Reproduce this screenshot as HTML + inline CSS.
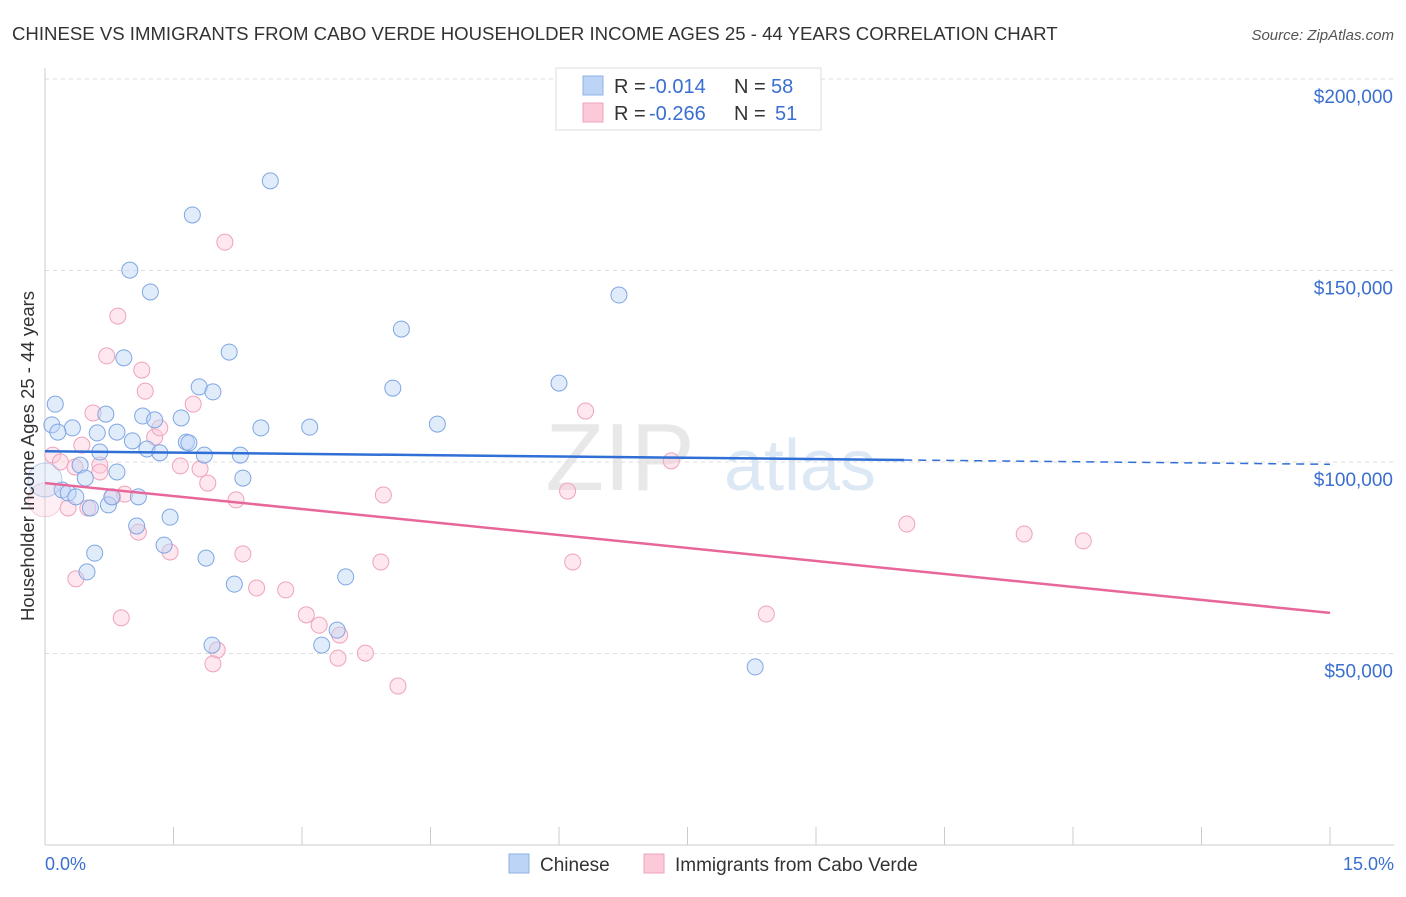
<!DOCTYPE html>
<html><head><meta charset="utf-8"><style>
body{margin:0;background:#fff;font-family:"Liberation Sans",sans-serif;}
svg text{font-family:"Liberation Sans",sans-serif;}
</style></head><body>
<svg id="chart" width="1406" height="892" xmlns="http://www.w3.org/2000/svg">
<text x="12" y="40" font-size="18.6" fill="#333">CHINESE VS IMMIGRANTS FROM CABO VERDE HOUSEHOLDER INCOME AGES 25 - 44 YEARS CORRELATION CHART</text>
<text x="1394" y="40" font-size="15" fill="#555" font-style="italic" text-anchor="end">Source: ZipAtlas.com</text>
<text x="620" y="490" font-size="96" fill="#e8e8e8" font-family="Liberation Serif" text-anchor="middle">ZIP</text>
<text x="800" y="490" font-size="72" fill="#dde8f5" text-anchor="middle">atlas</text>
<g id="grid"></g><g id="axes"></g><g id="pts"></g><g id="trend"></g>
<text transform="translate(34,456) rotate(-90)" font-size="18.5" fill="#333" text-anchor="middle">Householder Income Ages 25 - 44 years</text>
<text x="45" y="870" font-size="18" fill="#3a6fd0">0.0%</text>
<text x="1394" y="870" font-size="18" fill="#3a6fd0" text-anchor="end">15.0%</text>
<g>
<rect x="556" y="68" width="265" height="62" fill="#fff" stroke="#ddd"/>
<rect x="583" y="76" width="20" height="19" fill="#bcd4f6" stroke="#8fb1e6"/>
<rect x="583" y="103" width="20" height="19" fill="#fcc9d9" stroke="#eea3bc"/>
<text x="614" y="93" font-size="20" fill="#333">R =</text>
<text x="649" y="93" font-size="20" fill="#3a6fd0">-0.014</text>
<text x="734" y="93" font-size="20" fill="#333">N =</text>
<text x="771" y="93" font-size="20" fill="#3a6fd0">58</text>
<text x="614" y="120" font-size="20" fill="#333">R =</text>
<text x="649" y="120" font-size="20" fill="#3a6fd0">-0.266</text>
<text x="734" y="120" font-size="20" fill="#333">N =</text>
<text x="775" y="120" font-size="20" fill="#3a6fd0">51</text>
</g>
<g>
<rect x="509" y="854" width="20" height="19" fill="#bcd4f6" stroke="#8fb1e6"/>
<text x="540" y="871" font-size="19" fill="#333">Chinese</text>
<rect x="644" y="854" width="20" height="19" fill="#fcc9d9" stroke="#eea3bc"/>
<text x="675" y="871" font-size="19" fill="#333">Immigrants from Cabo Verde</text>
</g>
</svg>
<script>
const yTicks=[50000,100000,150000,200000];
const yTickLabels=["$50,000","$100,000","$150,000","$200,000"];
const chineseX=[0.12,0.08,0.32,0.15,0.20,0.27,0.36,0.41,0.47,0.61,0.64,0.71,0.84,0.84,0.74,0.78,0.92,0.99,1.23,1.14,1.28,1.02,1.19,1.34,1.09,1.07,1.46,1.39,0.58,0.49,1.72,2.63,2.15,1.80,1.96,1.59,1.65,1.68,1.86,2.28,2.31,2.52,3.09,1.88,2.21,1.95,3.51,3.41,3.23,4.16,4.06,4.58,6.00,6.70,8.29,0.53,0.0];
const chineseY=[115.1,109.7,108.9,107.8,92.7,91.9,90.9,99.2,95.8,107.6,102.6,112.5,107.8,97.4,88.8,90.9,127.2,150.1,144.4,112.0,111.0,105.5,103.4,102.4,90.9,83.3,85.6,78.3,76.2,71.3,164.5,173.4,128.7,119.6,118.3,111.5,105.2,105.0,101.8,101.8,95.8,108.9,109.1,74.9,68.1,52.2,70.0,56.1,52.2,134.7,119.3,109.9,120.6,143.6,46.5,88.0,95.3];
const caboX=[2.10,0.85,0.72,1.13,1.17,1.73,0.56,0.43,0.09,0.18,0.35,0.64,0.64,1.28,1.34,1.58,1.81,1.90,2.23,0.79,0.93,0.27,0.50,1.09,1.46,2.31,0.36,0.89,2.47,2.81,3.05,3.20,3.44,3.74,3.42,2.01,1.96,4.12,3.92,3.95,6.10,6.31,6.16,7.31,8.42,10.06,11.43,12.12,0.0];
const caboY=[157.4,138.1,127.7,124.0,118.5,115.1,112.8,104.4,101.8,100.0,98.7,99.2,97.4,106.5,108.9,99.0,98.2,94.5,90.1,90.9,91.6,88.0,88.0,81.7,76.5,76.0,69.5,59.3,67.1,66.6,60.1,57.4,54.8,50.1,48.8,50.9,47.3,41.5,73.9,91.4,92.4,113.3,73.9,100.3,60.3,83.8,81.2,79.4,90.1];
const chineseTrend=[102.8,99.4];
const caboTrend=[94.5,60.6];
const xs=v=>45+v*(1285/15);
const ys=v=>845-v*(191.5/50000);
const NS="http://www.w3.org/2000/svg";
function mk(t,a,p){const e=document.createElementNS(NS,t);for(const k in a)e.setAttribute(k,a[k]);p.appendChild(e);return e;}
const grid=document.getElementById('grid'),axes=document.getElementById('axes'),pts=document.getElementById('pts'),tr=document.getElementById('trend');
yTicks.forEach((v,i)=>{
 const l=mk('line',{x1:45,x2:1394,y1:ys(v),y2:ys(v),stroke:'#ddd','stroke-dasharray':'4,4'},grid);
 
 
 const t=mk('text',{x:1393,y:ys(v)+24,'font-size':19,fill:'#3a6fd0','text-anchor':'end'},grid);
 t.textContent=yTickLabels[i];
 
 
});
const ya=mk('line',{x1:45,x2:45,y1:68,y2:845,stroke:'#ccc'},axes);


const xa=mk('line',{x1:45,x2:1394,y1:845,y2:845,stroke:'#ccc'},axes);


for(let i=0;i<=10;i++){const t=mk('line',{x1:xs(i*1.5),x2:xs(i*1.5),y1:827,y2:845,stroke:'#ccc'},axes);
 
 }
function dots(X,Y,fill,stroke,name){X.forEach((x,i)=>{const big=(x===0);
 const c=mk('circle',{cx:xs(x),cy:ys(Y[i]*1000),r:big?17:8,fill:fill,'fill-opacity':big?0.3:0.45,stroke:stroke,'stroke-width':1,'stroke-opacity':big?0.5:1},pts);
 
 });}
dots(caboX,caboY,'#fcc9d9','#eea3bc','cabo-verde-point');
dots(chineseX,chineseY,'#bcd4f6','#7fa6e3','chinese-point');
const xm=10.03;
const cy0=ys(chineseTrend[0]*1000),cy1=ys(chineseTrend[1]*1000);
const cym=cy0+(cy1-cy0)*xm/15;
const b1=mk('line',{x1:xs(0),y1:cy0,x2:xs(xm),y2:cym,stroke:'#2f6fd6','stroke-width':2.5},tr);


const b2=mk('line',{x1:xs(xm),y1:cym,x2:xs(15),y2:cy1,stroke:'#2f6fd6','stroke-width':1.5,'stroke-dasharray':'8,6'},tr);


const p1=mk('line',{x1:xs(0),y1:ys(caboTrend[0]*1000),x2:xs(15),y2:ys(caboTrend[1]*1000),stroke:'#e8679a','stroke-width':2.5},tr);


</script>
</body></html>
